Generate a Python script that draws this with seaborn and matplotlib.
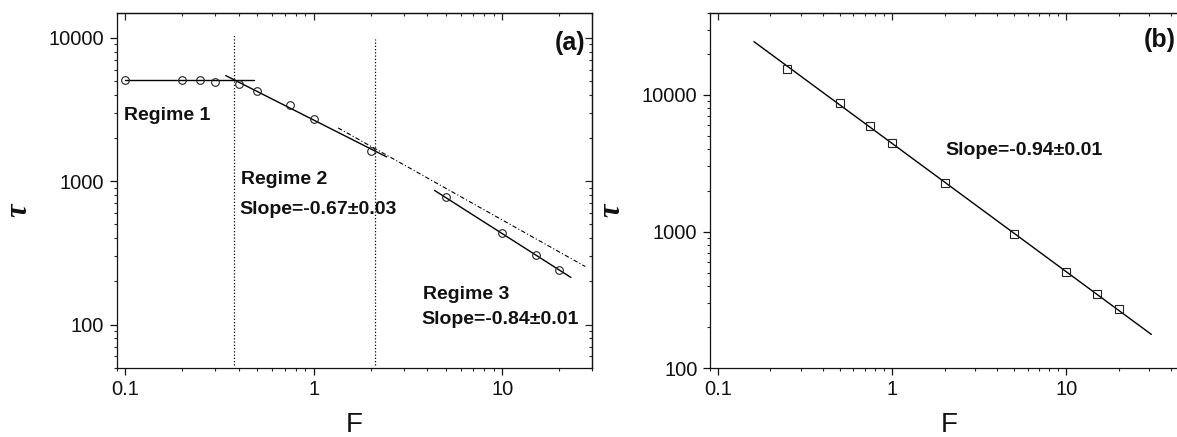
import matplotlib
matplotlib.use("Agg")
import matplotlib.pyplot as plt
from matplotlib.ticker import NullFormatter
import seaborn as sns

# panel (a): relaxation time vs force, three regimes
F_a = [0.1, 0.2, 0.25, 0.3, 0.4, 0.5, 0.75, 1, 2, 5, 10, 15, 20]
tau_a = [5080, 5080, 5060, 4920, 4770, 4280, 3400, 2720, 1610, 770, 433, 306, 240]

regime1_F = [0.1, 0.483]
regime1_tau = [5070, 5070]
regime2_F = [0.341, 2.43]
regime2_tau = [5445, 1476]
regime3_F = [4.37, 23.1]
regime3_tau = [861, 213]
extrap_F = [1.345, 27.5]
extrap_tau = [2350, 254]

bound_F = [0.379, 2.11]
bound_top = [10550, 9745]
bound_bottom = [52, 52]

# panel (b): single power law
F_b = [0.25, 0.5, 0.75, 1, 2, 5, 10, 15, 20]
tau_b = [15400, 8790, 5930, 4480, 2280, 962, 507, 352, 272]
fit_b_F = [0.161, 30.8]
fit_b_tau = [24550, 177]

x_ticks = [0.1, 1, 10]
x_labels = ["0.1", "1", "10"]
y_ticks = [100, 1000, 10000]
y_labels = ["100", "1000", "10000"]

sns.set_style("ticks")
plt.rcParams["font.family"] = ["Liberation Sans", "DejaVu Sans"]
plt.rcParams["axes.linewidth"] = 0.9

W, H = 1177, 437
fig = plt.figure(figsize=(W / 100, H / 100), dpi=100)

ax_a = fig.add_axes([116.7 / W, 1 - 367.7 / H, (592.3 - 116.7) / W, (367.7 - 13.3) / H])
ax_b = fig.add_axes([710 / W, 1 - 368.3 / H, 478 / W, (368.3 - 12.7) / H])

txt = dict(fontsize=14, fontweight="bold", color="#111111")


def style_axes(ax, xlim, ylim):
    ax.set(xscale="log", yscale="log")
    ax.set_xticks(x_ticks, labels=x_labels)
    ax.set_yticks(y_ticks, labels=y_labels)
    ax.set_xlim(*xlim)
    ax.set_ylim(*ylim)
    ax.tick_params(which="major", direction="out", length=5, width=0.9,
                   labelsize=14.5, pad=3.5, colors="#111111")
    ax.tick_params(which="minor", direction="out", length=2.5, width=0.8)
    ax.tick_params(axis="y", which="major", pad=4)
    ax.tick_params(top=False, right=False)
    for s in ax.spines.values():
        s.set_linewidth(0.9)
        s.set_color("#111111")
    # ticks on the top and right sides point inwards
    top = ax.secondary_xaxis("top")
    right = ax.secondary_yaxis("right")
    for sec in (top, right):
        sec.tick_params(which="major", direction="in", length=5, width=0.9)
        sec.tick_params(which="minor", direction="in", length=2.5, width=0.8)
        sec.xaxis.set_major_formatter(NullFormatter())
        sec.xaxis.set_minor_formatter(NullFormatter())
        sec.yaxis.set_major_formatter(NullFormatter())
        sec.yaxis.set_minor_formatter(NullFormatter())
        for s in sec.spines.values():
            s.set_linewidth(0.9)
    ax.set_xlabel("F", fontsize=20, color="#111111")
    ax.xaxis.set_label_coords(0.5, -0.124)


# ---- panel (a)
style_axes(ax_a, (0.09, 30), (50, 14800))
sns.lineplot(x=regime1_F, y=regime1_tau, ax=ax_a, color="black", lw=1.0)
sns.lineplot(x=regime2_F, y=regime2_tau, ax=ax_a, color="black", lw=1.0)
sns.lineplot(x=regime3_F, y=regime3_tau, ax=ax_a, color="black", lw=1.0)
sns.lineplot(x=extrap_F, y=extrap_tau, ax=ax_a, color="black", lw=0.8,
             linestyle=(0, (4, 2, 1, 2)))
ax_a.vlines(bound_F, bound_bottom, bound_top, colors="black",
            linestyles=[(0, (1, 1.6))], lw=0.9)
sns.lineplot(x=F_a, y=tau_a, ax=ax_a, marker="o", linestyle="",
             markersize=5.5, markerfacecolor="none", markeredgecolor="#222222",
             markeredgewidth=0.8)
ax_a.set_ylabel("")
ax_a.text(0.098, 2680, "Regime 1", **txt)
ax_a.text(0.409, 948, "Regime 2", **txt)
ax_a.text(0.401, 587, "Slope=-0.67\u00b10.03", **txt)
ax_a.text(3.78, 151, "Regime 3", **txt)
ax_a.text(3.74, 101, "Slope=-0.84\u00b10.01", **txt)
ax_a.text(19, 8200, "(a)", fontsize=18, fontweight="bold", color="#111111")

# ---- panel (b)
style_axes(ax_b, (0.09, 50), (100, 40000))
sns.lineplot(x=fit_b_F, y=fit_b_tau, ax=ax_b, color="black", lw=1.0)
sns.lineplot(x=F_b, y=tau_b, ax=ax_b, marker="s", linestyle="",
             markersize=5.5, markerfacecolor="none", markeredgecolor="#222222",
             markeredgewidth=0.8)
ax_b.set_ylabel("")
ax_b.text(2.01, 3640, "Slope=-0.94\u00b10.01", **txt)
ax_b.text(42.5, 22500, "(b)", ha="right", fontsize=18, fontweight="bold",
          color="#111111")

# y labels (tau), placed beside each panel
for xp in (18.5, 612):
    fig.text(xp / W, 1 - 210 / H, "\u03c4", rotation=90, ha="center", va="center",
             fontsize=22, fontstyle="italic", fontweight="bold",
             family=["Liberation Serif", "DejaVu Serif"], color="#111111")

fig.savefig("out.png", dpi=100)
